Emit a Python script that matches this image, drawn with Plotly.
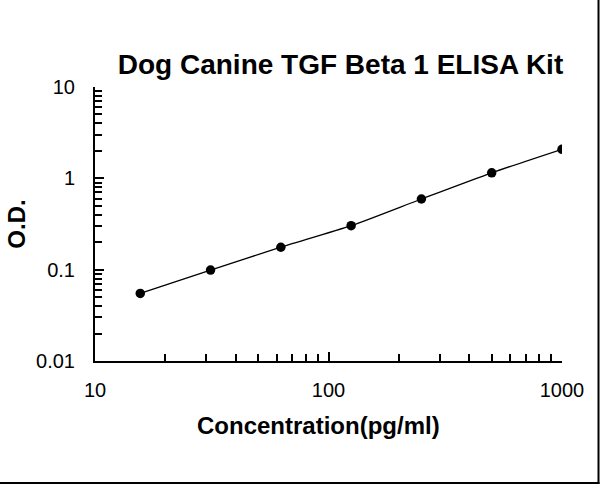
import plotly.graph_objects as go

# Data
concentration = [15.625, 31.25, 62.5, 125, 250, 500, 1000]
od_values = [0.055, 0.099, 0.176, 0.303, 0.594, 1.15, 2.08]

x_tick_vals = [10, 100, 1000]
x_tick_text = ["10", "100", "1000"]
y_tick_vals = [0.01, 0.1, 1, 10]
y_tick_text = ["0.01", "0.1", "1", "10"]

title_text = "Dog Canine TGF Beta 1 ELISA Kit"
x_title = "Concentration(pg/ml)"
y_title = "O.D."

FONT = "Liberation Sans, Arial, sans-serif"

x_minor = [m * 10 ** d for d in (1, 2) for m in range(2, 10)]
y_minor = [m * 10 ** d for d in (-2, -1, 0) for m in range(2, 10)]

fig = go.Figure()
fig.add_trace(go.Scatter(
    x=concentration, y=od_values,
    mode="lines+markers",
    line=dict(color="black", width=1.3, shape="spline", smoothing=0.6),
    marker=dict(color="black", size=9.5),
    showlegend=False,
))

axis_common = dict(
    type="log",
    showgrid=False,
    zeroline=False,
    showline=True,
    linecolor="black",
    linewidth=2,
    ticks="inside",
    ticklen=9,
    tickwidth=2,
    tickcolor="black",
    tickfont=dict(family=FONT, size=20, color="black"),
)

fig.update_xaxes(
    **axis_common,
    range=[1, 3],
    tickvals=x_tick_vals,
    ticktext=x_tick_text,
    ticklabelstandoff=10,
    minor=dict(tickvals=x_minor, ticks="inside", ticklen=7, tickwidth=1.5, tickcolor="black", showgrid=False),
)
fig.update_yaxes(
    **axis_common,
    range=[-2, 1],
    tickvals=y_tick_vals,
    ticktext=y_tick_text,
    ticklabelstandoff=14,
    minor=dict(tickvals=y_minor, ticks="inside", ticklen=7, tickwidth=1.5, tickcolor="black", showgrid=False),
    title=dict(text=y_title, font=dict(family=FONT, size=24, color="black", weight="bold"), standoff=4),
)

fig.update_layout(
    width=600, height=485,
    margin=dict(l=95, r=38, t=87, b=124),
    paper_bgcolor="white",
    plot_bgcolor="white",
    title=dict(
        text=title_text,
        font=dict(family=FONT, size=28, color="black", weight="bold"),
        xref="container", x=340.5 / 600, xanchor="center",
        yref="container", y=1 - 64 / 485, yanchor="middle",
    ),
    annotations=[
        dict(text=x_title, xref="paper", yref="paper",
             x=(318.5 - 95) / 467, y=(361 - 425) / 274,
             xanchor="center", yanchor="middle", showarrow=False,
             font=dict(family=FONT, size=24, color="black", weight="bold")),
    ],
    shapes=[
        dict(type="line", xref="paper", yref="paper",
             x0=(598.5 - 95) / 467, x1=(598.5 - 95) / 467,
             y0=(361 - 0) / 274, y1=(361 - 484) / 274,
             line=dict(color="black", width=2)),
        dict(type="line", xref="paper", yref="paper",
             x0=-95 / 467, x1=(599.5 - 95) / 467,
             y0=(361 - 483) / 274, y1=(361 - 483) / 274,
             line=dict(color="black", width=2)),
    ],
)

fig.write_html("out.html")
